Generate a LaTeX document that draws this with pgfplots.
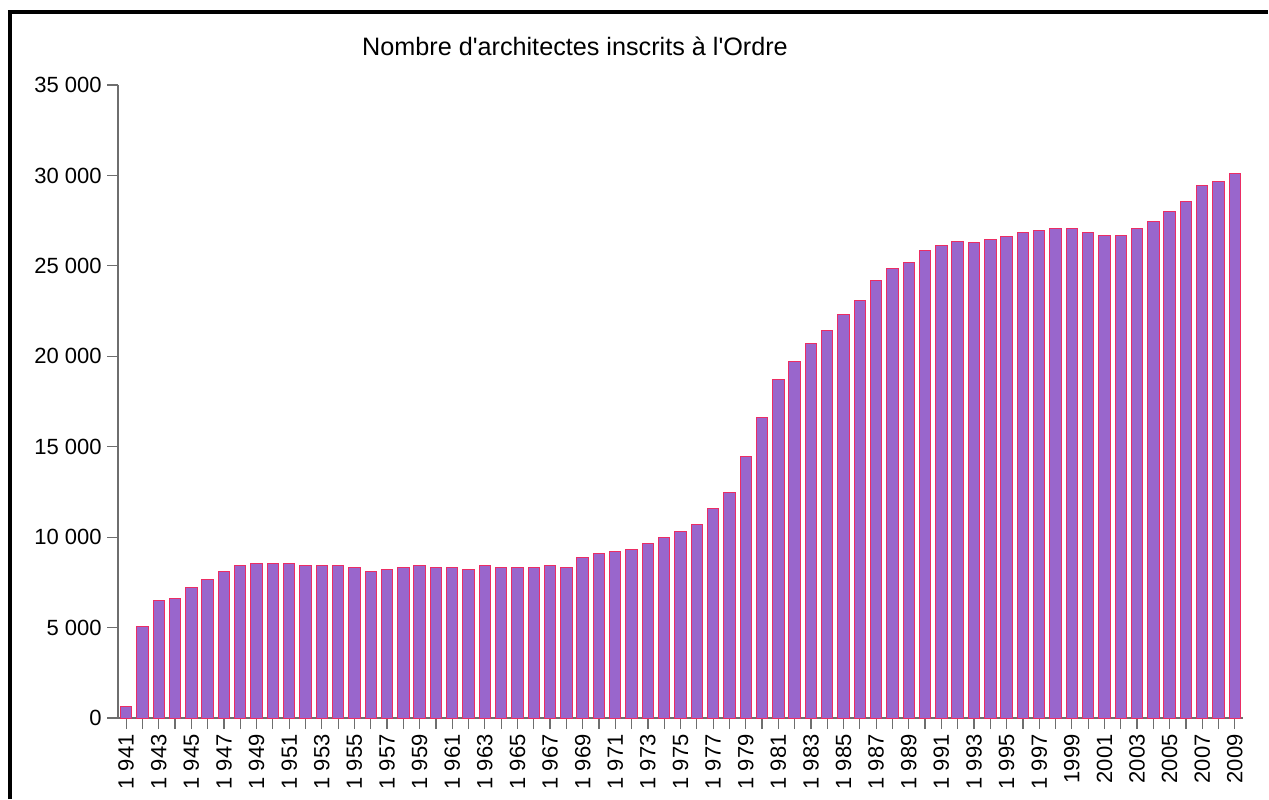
\documentclass[border=0pt]{standalone}
\usepackage{fontspec}
\setmainfont{Liberation Sans}
\usepackage{pgfplots}
\pgfplotsset{compat=1.18}

\definecolor{barfill}{RGB}{153,102,204}
\definecolor{baredge}{RGB}{235,45,100}
\definecolor{axisgray}{RGB}{110,110,110}

\pgfplotstableread{
year n
1941 650
1942 5070
1943 6480
1944 6590
1945 7240
1946 7680
1947 8120
1948 8440
1949 8550
1950 8550
1951 8550
1952 8440
1953 8440
1954 8440
1955 8330
1956 8120
1957 8220
1958 8330
1959 8440
1960 8330
1961 8330
1962 8220
1963 8440
1964 8330
1965 8330
1966 8330
1967 8440
1968 8320
1969 8870
1970 9090
1971 9200
1972 9310
1973 9640
1974 9970
1975 10300
1976 10720
1977 11600
1978 12460
1979 14450
1980 16620
1981 18730
1982 19720
1983 20700
1984 21450
1985 22320
1986 23090
1987 24200
1988 24860
1989 25170
1990 25860
1991 26150
1992 26370
1993 26280
1994 26480
1995 26610
1996 26840
1997 26940
1998 27040
1999 27040
2000 26840
2001 26700
2002 26700
2003 27040
2004 27480
2005 28020
2006 28570
2007 29450
2008 29670
2009 30100
}\ordre

\begin{document}
\begin{tikzpicture}
% page frame, 1 px = 0.5pt
\useasboundingbox (0,0) rectangle (634.5pt,399.5pt);
\draw[line width=2.2pt] (5pt,0) -- (5pt,394pt);
\draw[line width=2.2pt] (3.9pt,393.5pt) -- (634pt,393.5pt);
\node[font=\fontsize{12.6}{14}\selectfont] at (287.5pt,376.5pt)
  {Nombre d\textquotesingle architectes inscrits à l\textquotesingle Ordre};

\begin{axis}[
    at={(59pt,40.5pt)}, anchor=south west,
    scale only axis,
    width=562.5pt, height=316.5pt,
    xmin=1940.5, xmax=2009.5,
    ymin=0, ymax=35000,
    axis lines*=left,
    axis line style={axisgray, line width=0.7pt},
    tick style={axisgray, line width=0.6pt},
    tick align=outside,
    major tick length=5.5pt,
    minor tick length=5.5pt,
    scaled y ticks=false,
    ytick={0,5000,...,35000},
    yticklabels={0,5 000,10 000,15 000,20 000,25 000,30 000,35 000},
    xtick={1941,1943,...,2009},
    minor xtick={1942,1944,...,2008},
    xticklabels={1 941,1 943,1 945,1 947,1 949,1 951,1 953,1 955,1 957,1 959,1 961,1 963,1 965,1 967,1 969,1 971,1 973,1 975,1 977,1 979,1 981,1 983,1 985,1 987,1 989,1 991,1 993,1 995,1 997,1999,2001,2003,2005,2007,2009},
    xticklabel style={rotate=90, anchor=east, inner sep=2.5pt},
    yticklabel style={inner sep=2.5pt},
    ticklabel style={font=\fontsize{11}{13}\selectfont},
    ybar, bar width=0.7,
]
\addplot[fill=barfill, draw=baredge, line width=0.5pt] table[x=year, y=n] {\ordre};
\end{axis}
\end{tikzpicture}
\end{document}
